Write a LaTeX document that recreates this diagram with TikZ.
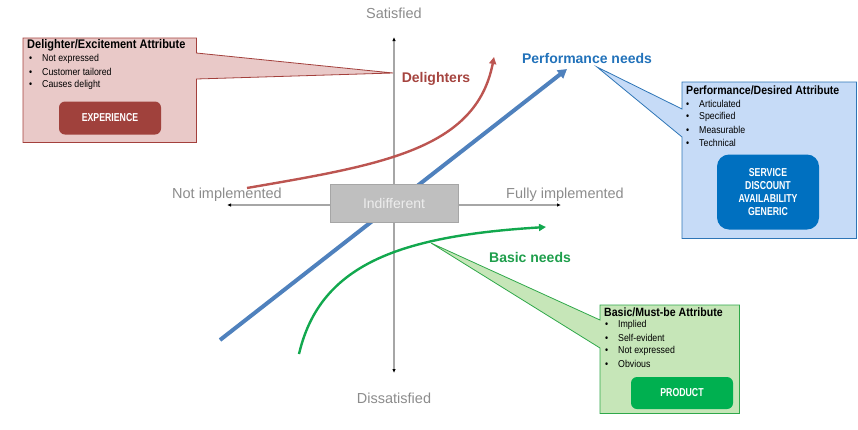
\documentclass[tikz,border=0pt]{standalone}
\usepackage{fontspec}
\setmainfont{Liberation Sans}
\newfontfamily\nar[FakeStretch=0.88]{Liberation Sans}
\newfontfamily\narb[FakeStretch=0.76]{Liberation Sans}
\usetikzlibrary{arrows.meta,calc}
\definecolor{axgray}{HTML}{8C8C8C}
\definecolor{axline}{HTML}{A6A6A6}
\definecolor{indfill}{HTML}{BFBFBF}
\definecolor{indedge}{HTML}{A6A6A6}
\definecolor{indtext}{HTML}{EDEDED}
\definecolor{blueln}{HTML}{4F81BD}
\definecolor{redln}{HTML}{BC5551}
\definecolor{greenln}{HTML}{12A84E}
\definecolor{redtxt}{HTML}{A5443F}
\definecolor{bluetxt}{HTML}{2272BA}
\definecolor{greentxt}{HTML}{1E9E4B}
\definecolor{dfill}{HTML}{E9C9C8}
\definecolor{dedge}{HTML}{A3403C}
\definecolor{dbtn}{HTML}{A0413C}
\definecolor{pfill}{HTML}{C6DBF7}
\definecolor{pedge}{HTML}{2E75B6}
\definecolor{pbtn}{HTML}{0070C0}
\definecolor{gfill}{HTML}{C6E6B8}
\definecolor{gedge}{HTML}{2FA84A}
\definecolor{gbtn}{HTML}{00B050}
\begin{document}
\begin{tikzpicture}[x=1pt,y=-1pt,
  axis/.style={draw=axline, line width=1.2pt, {Latex[length=4pt,width=3.5pt,black]}-{Latex[length=4pt,width=3.5pt,black]}},
  axislbl/.style={text=axgray, inner sep=0, font=\fontsize{14.5}{16}\selectfont},
  needlbl/.style={inner sep=0, font=\fontsize{14}{16}\selectfont\bfseries},
  boxtitle/.style={anchor=west, inner sep=0, font=\nar\fontsize{12}{14}\selectfont\bfseries},
  item/.style={anchor=west, inner sep=0, font=\nar\fontsize{10}{12}\selectfont},
  btn/.style={rounded corners=6pt, text=white, align=center, inner sep=0, font=\narb\fontsize{11.5}{12.8}\selectfont\bfseries},
  shell/.style={inner sep=0, anchor=north west},
  callout/.style={line width=0.8pt}
]
\useasboundingbox (0,0) rectangle (858,429);

% axes
\coordinate (xl) at (227,205);
\coordinate (xr) at (561,205);
\coordinate (yt) at (394,37);
\coordinate (yb) at (394,373);
\draw[axis] (xl) -- (xr);
\draw[axis] (yb) -- (yt);

% curves
\coordinate (b0) at (220,340);
\coordinate (b1) at (567,69);
\draw[blueln, line width=4pt, -{Triangle[length=9pt,width=10pt]}] (b0) -- (b1);

\coordinate (r0) at (247,188);
\coordinate (r1) at (494,57);
\draw[redln, line width=2.4pt, -{Triangle[length=7pt,width=7pt]}] (r0) .. controls (380,165) and (476,150) .. (r1);

\coordinate (g0) at (299,354);
\coordinate (g1) at (546,227);
\draw[greenln, line width=2.4pt, -{Triangle[length=7pt,width=7pt]}] (g0) .. controls (320,264) and (400,236) .. (g1);

% indifferent
\node[fill=indfill, draw=indedge, line width=0.8pt, minimum width=128pt, minimum height=38pt, inner sep=0,
      text=indtext, font=\fontsize{14}{16}\selectfont] (ind) at (394,203) {Indifferent};

% axis labels
\node[axislbl] (sat) at (394,13) {Satisfied};
\node[axislbl] (dis) at (394,398) {Dissatisfied};
\node[axislbl] (notimp) at (227,195) {Not implemented};
\node[axislbl] (fullimp) at (565,195) {Fully implemented};

% need labels
\node[needlbl, text=redtxt] (deli) at (436,79) {Delighters};
\node[needlbl, text=bluetxt] (perf) at (587,58) {Performance needs};
\node[needlbl, text=greentxt] (basic) at (530,257) {Basic needs};

% Delighter callout
\node[shell, minimum width=173pt, minimum height=104pt] (dbox) at (23,38) {};
\coordinate (dtip) at (393,73);
\path[callout, draw=dedge, fill=dfill] (dbox.north west) -- (dbox.north east) -- ($(dbox.north east)+(0,15)$) -- (dtip)
  -- ($(dbox.north east)+(0,41)$) -- (dbox.south east) -- (dbox.south west) -- cycle;
\node[boxtitle, font=\nar\fontsize{12.5}{14}\selectfont\bfseries] (dtitle) at (27,45) {Delighter/Excitement Attribute};
\node[item] (d1) at (29,59) {\makebox[13pt][l]{\textbullet}Not expressed};
\node[item] (d2) at (29,72) {\makebox[13pt][l]{\textbullet}Customer tailored};
\node[item] (d3) at (29,85) {\makebox[13pt][l]{\textbullet}Causes delight};
\node[btn, fill=dbtn, minimum width=102pt, minimum height=33pt] (dbtn) at (110,118) {EXPERIENCE};

% Performance callout
\node[shell, minimum width=174pt, minimum height=156pt] (pbox) at (682,82) {};
\coordinate (ptip) at (597,67);
\path[callout, draw=pedge, fill=pfill] (pbox.north west) -- (pbox.north east) -- (pbox.south east) -- (pbox.south west)
  -- ($(pbox.north west)+(0,55)$) -- (ptip) -- ($(pbox.north west)+(0,27)$) -- cycle;
\node[boxtitle] (ptitle) at (686,90) {Performance/Desired Attribute};
\node[item] (p1) at (686,104) {\makebox[13pt][l]{\textbullet}Articulated};
\node[item] (p2) at (686,117) {\makebox[13pt][l]{\textbullet}Specified};
\node[item] (p3) at (686,130) {\makebox[13pt][l]{\textbullet}Measurable};
\node[item] (p4) at (686,143) {\makebox[13pt][l]{\textbullet}Technical};
\node[btn, fill=pbtn, rounded corners=12pt, minimum width=102pt, minimum height=75pt] (pbtn) at (768,192)
  {SERVICE\\DISCOUNT\\AVAILABILITY\\GENERIC};

% Basic callout
\node[shell, minimum width=139pt, minimum height=108pt] (gbox) at (600,305) {};
\coordinate (gtip) at (431,243);
\path[callout, draw=gedge, fill=gfill] (gbox.north west) -- (gbox.north east) -- (gbox.south east) -- (gbox.south west)
  -- ($(gbox.north west)+(0,43)$) -- (gtip) -- ($(gbox.north west)+(0,15)$) -- cycle;
\node[boxtitle] (gtitle) at (604,312) {Basic/Must-be Attribute};
\node[item] (g1t) at (605,325) {\makebox[13pt][l]{\textbullet}Implied};
\node[item] (g2t) at (605,338) {\makebox[13pt][l]{\textbullet}Self-evident};
\node[item] (g3t) at (605,351) {\makebox[13pt][l]{\textbullet}Not expressed};
\node[item] (g4t) at (605,364) {\makebox[13pt][l]{\textbullet}Obvious};
\node[btn, fill=gbtn, minimum width=102pt, minimum height=32pt] (gbtn) at (682,393) {PRODUCT};
\end{tikzpicture}
\end{document}
